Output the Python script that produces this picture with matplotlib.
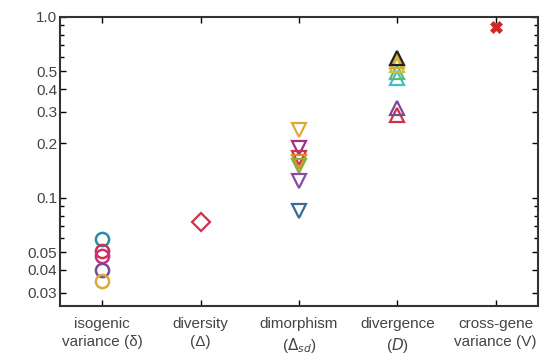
import matplotlib
matplotlib.use("Agg")
import matplotlib.pyplot as plt
from matplotlib.ticker import FixedLocator, NullFormatter

plt.rcParams['font.family'] = ['Liberation Sans', 'DejaVu Sans']

categories = ["isogenic\nvariance (δ)", "diversity\n(Δ)", "dimorphism\n($\\Delta_{sd}$)",
              "divergence\n($D$)", "cross-gene\nvariance (V)"]

# isogenic variance (circles)
iso_vals = [0.0593, 0.051, 0.0478, 0.040, 0.0348]
iso_cols = ["#2a8aa8", "#d0304a", "#c8307e", "#7a4a96", "#e0a838"]
# diversity (diamond)
div_vals = [0.074]
div_cols = ["#d0304a"]
# dimorphism (down triangles)
dim_vals = [0.238, 0.189, 0.166, 0.158, 0.150, 0.124, 0.085]
dim_cols = ["#e0a838", "#a0308a", "#d0304a", "#e08a30", "#88b040", "#8a4aa8", "#3a6a9a"]
# divergence (up triangles)
dvg_vals = [0.287, 0.314, 0.46, 0.496, 0.543, 0.57, 0.594]
dvg_cols = ["#d0304a", "#7a4a96", "#40c0c8", "#60b870", "#c8c040", "#e0a838", "#222222"]
# cross-gene variance
cg_vals = [0.88]
cg_cols = ["#d02828"]

fig = plt.figure(figsize=(5.49, 3.54), dpi=100)
ax = fig.add_axes([0.109, 0.1356, 0.871, 0.8164])

for v, c in zip(iso_vals, iso_cols):
    ax.plot(1, v, 'o', mfc='none', mec=c, ms=9.5, mew=1.8)
for v, c in zip(div_vals, div_cols):
    ax.plot(2, v, 'D', mfc='none', mec=c, ms=9, mew=1.6)
for v, c in zip(dim_vals, dim_cols):
    ax.plot(3, v, 'v', mfc='none', mec=c, ms=10, mew=1.6)
for v, c in zip(dvg_vals, dvg_cols):
    ax.plot(4, v, '^', mfc='none', mec=c, ms=10, mew=1.6)
for v, c in zip(cg_vals, cg_cols):
    ax.plot(5, v, 'X', color=c, ms=8, mew=0.5)

ax.set_yscale('log')
ax.set_ylim(0.0253, 1.0)
ax.set_xlim(0.57, 5.43)
ax.set_xticks([1, 2, 3, 4, 5])
ax.set_xticklabels(categories, color='#444444', fontsize=11, linespacing=1.35)
major = [0.03, 0.04, 0.05, 0.1, 0.2, 0.3, 0.4, 0.5, 1.0]
ax.yaxis.set_major_locator(FixedLocator(major))
ax.set_yticklabels(["0.03", "0.04", "0.05", "0.1", "0.2", "0.3", "0.4", "0.5", "1.0"],
                   color='#444444', fontsize=11)
ax.yaxis.set_minor_locator(FixedLocator([0.06, 0.07, 0.08, 0.09, 0.6, 0.7, 0.8, 0.9]))
ax.yaxis.set_minor_formatter(NullFormatter())
ax.tick_params(which='both', direction='in', top=True, right=True, width=1.0)
ax.tick_params(which='major', length=4)
ax.tick_params(which='minor', length=3)
ax.tick_params(axis='x', pad=8)
ax.tick_params(axis='y', pad=2)
for s in ax.spines.values():
    s.set_linewidth(1.5)
    s.set_color('#333333')

fig.savefig("out.png", dpi=100)
